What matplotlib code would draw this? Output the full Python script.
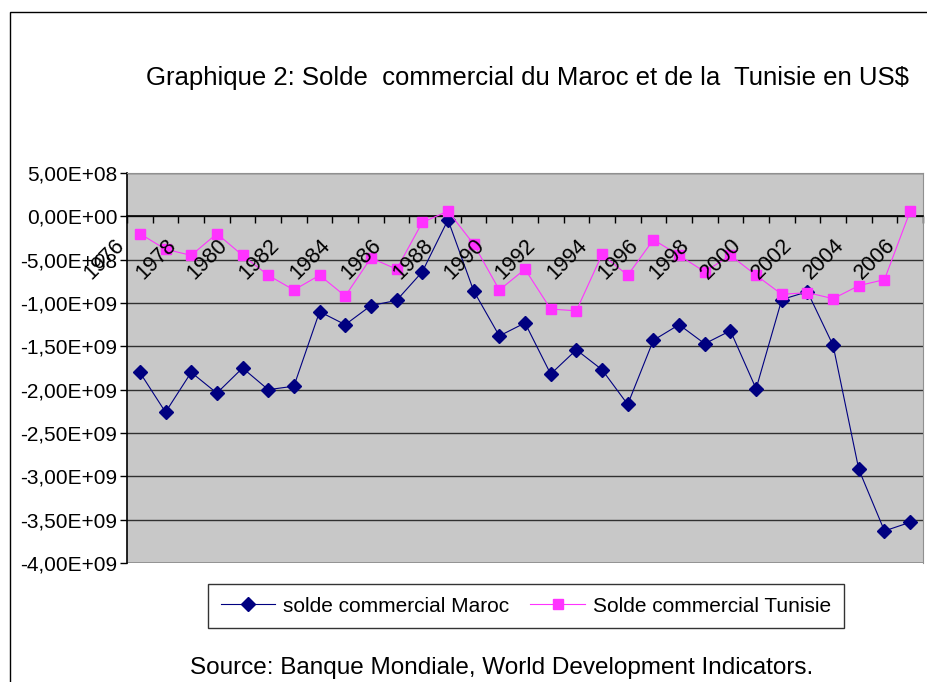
import matplotlib
matplotlib.use('Agg')
import matplotlib.pyplot as plt
import matplotlib.transforms as mtransforms
from matplotlib.patches import Rectangle
from matplotlib.ticker import FuncFormatter, MultipleLocator

plt.rcParams['font.family'] = ['Liberation Sans', 'DejaVu Sans']

# Données (US$)
annees = list(range(1976, 2007))
maroc = [-1.80e9, -2.26e9, -1.80e9, -2.04e9, -1.75e9, -2.00e9, -1.96e9, -1.10e9,
         -1.25e9, -1.03e9, -0.97e9, -0.64e9, -0.04e9, -0.86e9, -1.38e9, -1.23e9,
         -1.82e9, -1.54e9, -1.77e9, -2.17e9, -1.43e9, -1.25e9, -1.47e9, -1.32e9,
         -1.99e9, -0.96e9, -0.87e9, -1.49e9, -2.92e9, -3.63e9, -3.53e9]
tunisie = [-0.20e9, -0.38e9, -0.45e9, -0.20e9, -0.45e9, -0.68e9, -0.85e9, -0.68e9,
           -0.92e9, -0.48e9, -0.61e9, -0.07e9, 0.06e9, -0.32e9, -0.85e9, -0.61e9,
           -1.07e9, -1.09e9, -0.44e9, -0.68e9, -0.27e9, -0.45e9, -0.64e9, -0.45e9,
           -0.68e9, -0.90e9, -0.88e9, -0.95e9, -0.80e9, -0.73e9, 0.06e9]

fig = plt.figure(figsize=(9.27, 6.82), dpi=100)
ax = fig.add_axes([127 / 927, 1 - 563 / 682, 796 / 927, 390 / 682])
ax.set_facecolor('#c8c8c8')

x = list(range(len(annees)))
ax.plot(x, maroc, color='#000080', lw=0.8, marker='D', markersize=7,
        label='solde commercial Maroc', zorder=3)
ax.plot(x, tunisie, color='#ff33ff', lw=0.8, marker='s', markersize=7.5,
        label='Solde commercial Tunisie', zorder=3)

ax.set_xlim(-0.5, len(annees) - 0.5)
ax.set_ylim(-4e9, 5e8)
ax.yaxis.set_major_locator(MultipleLocator(5e8))
ax.yaxis.set_major_formatter(FuncFormatter(lambda v, p: '{:.2E}'.format(v).replace('.', ',')))
ax.grid(axis='y', color='#303030', lw=1, zorder=1)
ax.set_axisbelow(True)
ax.tick_params(axis='y', direction='out', length=5, width=1, pad=2, labelsize=15)

# axe des catégories placé à zéro
ax.spines['bottom'].set_position(('data', 0))
ax.spines['bottom'].set_linewidth(1.2)
ax.spines['left'].set_linewidth(1.2)
ax.spines['top'].set_color('#909090')
ax.spines['right'].set_color('#909090')
ax.set_xticks([i - 0.5 for i in range(len(annees) + 1)])
ax.set_xticklabels([])
ax.tick_params(axis='x', direction='out', length=5, width=1)

# cadre du bas du graphique
ax.axhline(-4e9, color='#909090', lw=1.2, zorder=2)

decal = mtransforms.ScaledTranslation(-0.35, -0.43, fig.dpi_scale_trans)
for i, a in enumerate(annees):
    if (a - 1976) % 2 == 0:
        ax.text(i, 0, str(a), rotation=45, ha='center', va='center', fontsize=15.5,
                transform=ax.transData + decal, zorder=4)

leg = ax.legend(loc='center', bbox_to_anchor=(526 / 927, 1 - 606 / 682),
                bbox_transform=fig.transFigure, ncol=2, fontsize=15, frameon=True,
                fancybox=False, edgecolor='black', handlelength=2.6, handletextpad=0.4,
                columnspacing=1.0, borderpad=0.6)
leg.get_frame().set_linewidth(1)

fig.text(527 / 927, 1 - 78 / 682,
         'Graphique 2: Solde  commercial du Maroc et de la  Tunisie en US$',
         ha='center', va='center', fontsize=18.5)
fig.text(502 / 927, 1 - 668 / 682,
         'Source: Banque Mondiale, World Development Indicators.',
         ha='center', va='center', fontsize=17.5)

fig.patches.append(Rectangle((10 / 927, -0.1), 1.2, 1 - 12 / 682 + 0.1, fill=False,
                             edgecolor='black', lw=1, transform=fig.transFigure))

fig.savefig('out.png', dpi=100)
